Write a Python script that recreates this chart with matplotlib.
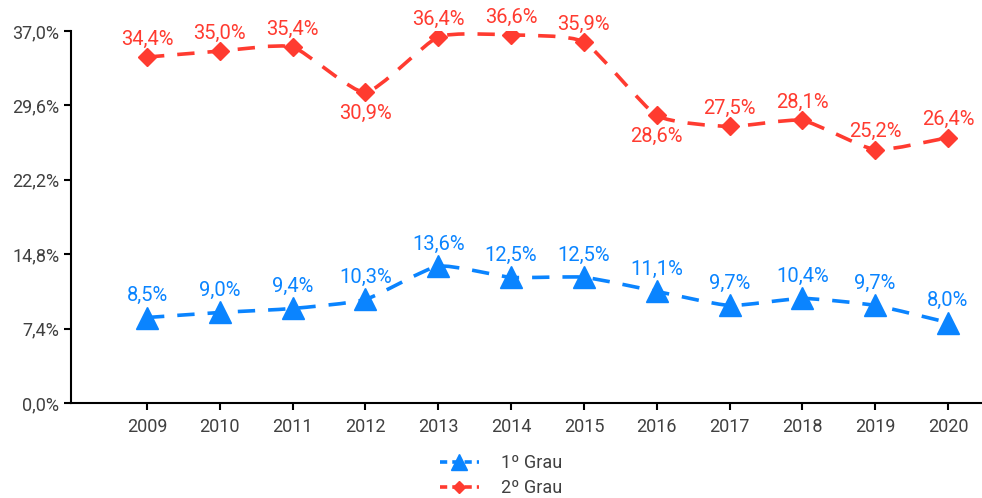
import matplotlib
matplotlib.use("Agg")
import matplotlib.pyplot as plt
from matplotlib.path import Path
from matplotlib.patches import PathPatch
from matplotlib.lines import Line2D
from matplotlib import font_manager

years = [2009, 2010, 2011, 2012, 2013, 2014, 2015, 2016, 2017, 2018, 2019, 2020]
grau1 = [8.5, 9.0, 9.4, 10.3, 13.6, 12.5, 12.5, 11.1, 9.7, 10.4, 9.7, 8.0]
grau2 = [34.4, 35.0, 35.4, 30.9, 36.4, 36.6, 35.9, 28.6, 27.5, 28.1, 25.2, 26.4]
grau2_below = [2012, 2016]
yticks = [0, 7.4, 14.8, 22.2, 29.6, 37.0]

BLUE = "#0A84FF"
RED = "#FF3B30"
GREY = "#404040"

names = {f.name for f in font_manager.fontManager.ttflist}
fam = [n for n in ["Liberation Sans Narrow", "Roboto", "DejaVu Sans"] if n in names]
plt.rcParams["font.family"] = fam


def fmt(v):
    return f"{v:.1f}%".replace(".", ",")


def smooth_path(xs, ys, k=1.0):
    # catmull-rom style bezier through the points
    verts = [(xs[0], ys[0])]
    codes = [Path.MOVETO]
    n = len(xs)
    for i in range(n - 1):
        x0, y0 = (xs[i - 1], ys[i - 1]) if i > 0 else (xs[i], ys[i])
        x1, y1 = xs[i], ys[i]
        x2, y2 = xs[i + 1], ys[i + 1]
        x3, y3 = (xs[i + 2], ys[i + 2]) if i + 2 < n else (x2, y2)
        c1 = (x1 + (x2 - x0) / 6 * k, y1 + (y2 - y0) / 6 * k)
        c2 = (x2 - (x3 - x1) / 6 * k, y2 - (y3 - y1) / 6 * k)
        verts += [c1, c2, (x2, y2)]
        codes += [Path.CURVE4] * 3
    return Path(verts, codes)


fig = plt.figure(figsize=(9.82, 4.98), dpi=100)
ax = fig.add_axes([0.0723, 0.1908, 0.9277, 0.747])

dash = (0, (4.8, 3.6))
lw = 2.6

for vals, color, marker, ms in [(grau1, BLUE, "^", 16), (grau2, RED, "D", 9)]:
    ax.add_patch(PathPatch(smooth_path(years, vals, k=0.55), fill=False, edgecolor=color,
                           lw=lw, linestyle=dash, capstyle="butt"))
    ax.plot(years, vals, linestyle="none", marker=marker, ms=ms, color=color, zorder=3)

for x, v in zip(years, grau1):
    ax.annotate(fmt(v), (x, v), xytext=(0, 9), textcoords="offset points",
                ha="center", va="bottom", color=BLUE, fontsize=14.5)

for x, v in zip(years, grau2):
    if x in grau2_below:
        ax.annotate(fmt(v), (x, v), xytext=(0, -8), textcoords="offset points",
                    ha="center", va="top", color=RED, fontsize=14.5)
    else:
        ax.annotate(fmt(v), (x, v), xytext=(0, 6), textcoords="offset points",
                    ha="center", va="bottom", color=RED, fontsize=14.5)

ax.set_xlim(2007.956, 2020.467)
ax.set_ylim(0, 37)
ax.set_xticks(years)
ax.set_xticklabels([str(y) for y in years])
ax.set_yticks(yticks)
ax.set_yticklabels([fmt(v) for v in yticks])
ax.tick_params(colors="black", labelcolor=GREY, labelsize=13, width=1.5, length=5)
ax.tick_params(axis="x", pad=6)
for s in ["top", "right"]:
    ax.spines[s].set_visible(False)
for s in ["left", "bottom"]:
    ax.spines[s].set_linewidth(1.5)

handles = [
    Line2D([], [], color=BLUE, lw=lw, linestyle=(0, (2.0, 1.4)), marker="^", ms=12),
    Line2D([], [], color=RED, lw=lw, linestyle=(0, (2.0, 1.4)), marker="D", ms=6.5),
]
fig.legend(handles, ["1º Grau", "2º Grau"], loc="center", bbox_to_anchor=(0.51, 0.045),
           frameon=False, fontsize=13, labelcolor=GREY, handlelength=2.2,
           labelspacing=0.4, handletextpad=1.2)

fig.savefig("out.png", dpi=100)
